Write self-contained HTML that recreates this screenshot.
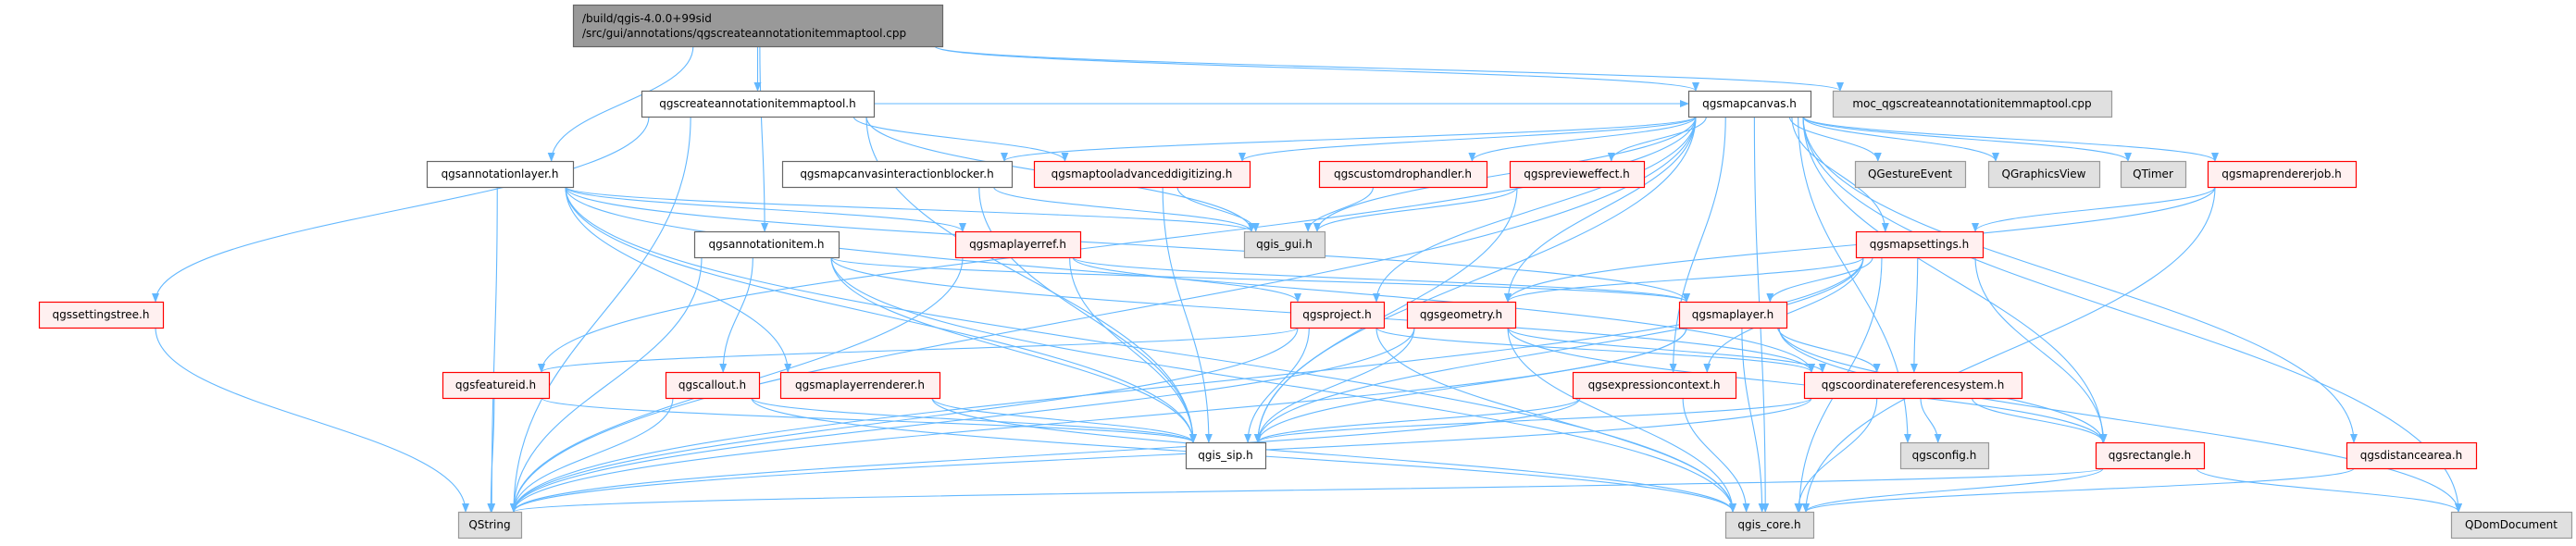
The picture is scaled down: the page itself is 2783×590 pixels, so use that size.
<!DOCTYPE html>
<html><head><meta charset="utf-8">
<style>
html,body{margin:0;padding:0;background:#fff;}
svg text{font-family:"DejaVu Sans","Liberation Sans",sans-serif;font-size:12px;fill:#000;}
</style></head>
<body>
<svg id="g" xmlns="http://www.w3.org/2000/svg" width="2783" height="585" viewBox="0 0 2783 585">
<defs>
<marker id="ah" markerWidth="10" markerHeight="8" refX="9" refY="4" orient="auto" markerUnits="userSpaceOnUse">
<path d="M0,0 L10,4 L0,8 z" fill="#63b8ff"/>
</marker>
</defs>
<g id="edges" fill="none" stroke="#63b8ff" stroke-width="1.1"></g>
<g id="nodes"></g>
</svg>
<script>
(function(){
var R=[5,98,174,250,326,402,478,553];
var H=28;
var N={
root:["",619,1018,0,"root"],
cmt:["qgscreateannotationitemmaptool.h",693,944,1,"w"],
mc:["qgsmapcanvas.h",1824,1956,1,"w"],
moc:["moc_qgscreateannotationitemmaptool.cpp",1980,2281,1,"g"],
al:["qgsannotationlayer.h",461,619,2,"w"],
mcib:["qgsmapcanvasinteractionblocker.h",845,1093,2,"w"],
mtad:["qgsmaptooladvanceddigitizing.h",1117,1350,2,"r"],
cdh:["qgscustomdrophandler.h",1425,1606,2,"r"],
pe:["qgspreviewweffect.h",1631,1776,2,"r"],
qge:["QGestureEvent",2004,2123,2,"g"],
qgv:["QGraphicsView",2148,2268,2,"g"],
qt:["QTimer",2291,2361,2,"g"],
mrj:["qgsmaprendererjob.h",2385,2545,2,"r"],
ai:["qgsannotationitem.h",750,906,3,"w"],
mlr:["qgsmaplayerref.h",1032,1167,3,"r"],
gui:["qgis_gui.h",1344,1431,3,"g"],
ms:["qgsmapsettings.h",2005,2142,3,"r"],
st:["qgssettingstree.h",42,176,4,"r"],
pr:["qgsproject.h",1394,1495,4,"r"],
geo:["qgsgeometry.h",1520,1637,4,"r"],
ml:["qgsmaplayer.h",1814,1930,4,"r"],
fid:["qgsfeatureid.h",478,593,5,"r"],
co:["qgscallout.h",719,820,5,"r"],
mlrn:["qgsmaplayerrenderer.h",843,1015,5,"r"],
ec:["qgsexpressioncontext.h",1699,1875,5,"r"],
crs:["qgscoordinatereferencesystem.h",1949,2184,5,"r"],
sip:["qgis_sip.h",1281,1367,6,"w"],
cfg:["qgsconfig.h",2053,2148,6,"g"],
rect:["qgsrectangle.h",2264,2381,6,"r"],
da:["qgsdistancearea.h",2535,2675,6,"r"],
qs:["QString",495,563,7,"g"],
core:["qgis_core.h",1864,1959,7,"g"],
dom:["QDomDocument",2648,2778,7,"g"]
};
N.pe[0]="qgspreviewweffect.h".replace("ww","w");
var E=[
["root","cmt"],["root","al"],["root","ai"],["root","mc"],["root","moc"],
["cmt","qs"],["cmt","st"],["cmt","mtad"],["cmt","gui"],["cmt","sip"],["cmt","mc"],
["al","qs"],["al","core"],["al","sip"],["al","mlrn"],["al","ml"],["al","mlr"],["al","gui"],["al","crs"],
["ai","qs"],["ai","core"],["ai","sip"],["ai","co"],["ai","crs"],["ai","ml"],
["st","qs"],["fid","qs"],["fid","sip"],["co","qs"],["co","sip"],["co","core"],
["mlrn","sip"],["mlrn","core"],
["mcib","gui"],["mcib","sip"],["mtad","gui"],["mtad","sip"],["cdh","gui"],["pe","gui"],["pe","sip"],
["mlr","pr"],["mlr","ml"],["mlr","qs"],["mlr","sip"],
["mc","mcib"],["mc","mtad"],["mc","cdh"],["mc","pe"],["mc","gui"],["mc","qge"],["mc","qgv"],["mc","qt"],["mc","mrj"],["mc","ms"],["mc","pr"],["mc","ec"],["mc","cfg"],["mc","rect"],["mc","da"],["mc","dom"],["mc","core"],["mc","fid"],["mc","qs"],["mc","sip"],["mc","geo"],
["mrj","ms"],["mrj","core"],["mrj","geo"],
["ms","ml"],["ms","geo"],["ms","crs"],["ms","rect"],["ms","core"],["ms","sip"],["ms","ec"],["ms","qs"],
["pr","sip"],["pr","core"],["pr","qs"],["pr","crs"],["pr","fid"],
["geo","sip"],["geo","qs"],["geo","core"],["geo","crs"],["geo","rect"],
["ml","sip"],["ml","crs"],["ml","rect"],["ml","dom"],["ml","core"],["ml","qs"],
["ec","sip"],["ec","core"],["ec","qs"],
["crs","sip"],["crs","cfg"],["crs","rect"],["crs","core"],["crs","qs"],
["rect","core"],["rect","dom"],["rect","qs"],
["da","core"]
];
var NS="http://www.w3.org/2000/svg";
function cl(v,a,b){return Math.max(a,Math.min(b,v));}
function topY(n){return R[n[3]];}
function botY(n){return n[3]==0?50:R[n[3]]+H;}
var eg=document.getElementById("edges");
E.forEach(function(e){
 var s=N[e[0]],t=N[e[1]];
 var sc=(s[1]+s[2])/2,tc=(t[1]+t[2])/2,d,x1,x2,y1,y2;
 if(s[3]==t[3]){
  var y=R[s[3]]+H/2;
  if(tc>sc){x1=s[2];x2=t[1];}else{x1=s[1];x2=t[2];}
  d="M"+x1+","+y+" L"+x2+","+y;
 }else{
  var down=t[3]>s[3];
  x1=cl(sc+(tc-sc)*0.25,s[1]+8,s[2]-8);
  y1=down?botY(s):topY(s);
  x2=cl(tc+(sc-tc)*0.2,t[1]+8,t[2]-8);
  y2=down?topY(t):botY(t);
  var dy=(y2-y1)*0.45;
  d="M"+x1+","+y1+" C"+x1+","+(y1+dy)+" "+x2+","+(y2-dy)+" "+x2+","+y2;
 }
 var p=document.createElementNS(NS,"path");
 p.setAttribute("d",d);p.setAttribute("marker-end","url(#ah)");
 eg.appendChild(p);
});
var ng=document.getElementById("nodes");
Object.keys(N).forEach(function(k){
 var n=N[k],y=R[n[3]],h=(k=="root")?45:H;
 var r=document.createElementNS(NS,"rect");
 r.setAttribute("x",n[1]+0.5);r.setAttribute("y",y+0.5);
 r.setAttribute("width",n[2]-n[1]);r.setAttribute("height",h);
 var f="#fff",st="#666";
 if(n[4]=="r"){f="#fff0f0";st="#ff0000";}
 if(n[4]=="g"){f="#e0e0e0";st="#999";}
 if(n[4]=="root"){f="#999";st="#666";}
 r.setAttribute("fill",f);r.setAttribute("stroke",st);r.setAttribute("stroke-width","1.2");
 ng.appendChild(r);
 if(k=="root"){
  ["/build/qgis-4.0.0+99sid","/src/gui/annotations/qgscreateannotationitemmaptool.cpp"].forEach(function(s,i){
   var t=document.createElementNS(NS,"text");
   t.setAttribute("x",629);t.setAttribute("y",y+19+i*16);t.textContent=s;ng.appendChild(t);
  });
 }else{
  var t=document.createElementNS(NS,"text");
  t.setAttribute("x",(n[1]+n[2])/2);t.setAttribute("y",y+18);
  t.setAttribute("text-anchor","middle");t.textContent=n[0];ng.appendChild(t);
 }
});
})();
</script>
</body></html>
